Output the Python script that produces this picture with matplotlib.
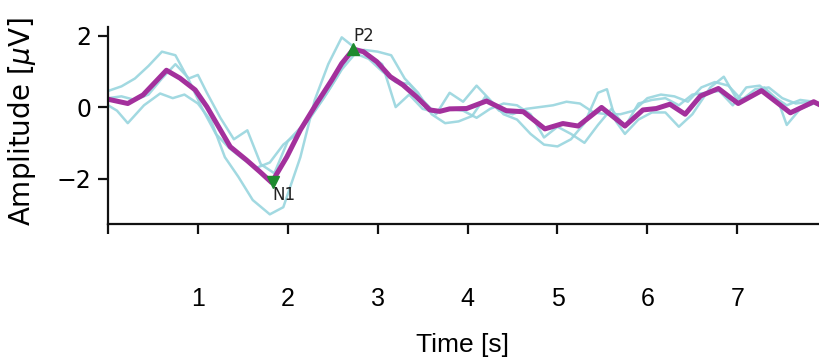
import matplotlib
matplotlib.use("Agg")
import matplotlib.pyplot as plt
from matplotlib import font_manager

# ---- data ----
mean_t = [0.00, 0.22, 0.39, 0.65, 0.80, 0.97, 1.10, 1.23, 1.36, 1.54, 1.69, 1.82,
          1.99, 2.14, 2.32, 2.49, 2.60, 2.73, 2.84, 2.99, 3.14, 3.28, 3.43, 3.58,
          3.69, 3.80, 3.99, 4.21, 4.43, 4.62, 4.86, 5.06, 5.23, 5.49, 5.75, 5.95,
          6.10, 6.25, 6.42, 6.59, 6.79, 7.01, 7.27, 7.59, 7.85, 7.92]
mean_v = [0.22, 0.10, 0.34, 1.03, 0.81, 0.48, 0.01, -0.55, -1.11, -1.48, -1.81, -2.11,
          -1.39, -0.64, 0.10, 0.76, 1.22, 1.62, 1.55, 1.27, 0.85, 0.62, 0.29, -0.08,
          -0.12, -0.05, -0.04, 0.17, -0.10, -0.13, -0.61, -0.46, -0.53, -0.01, -0.53, -0.08,
          -0.04, 0.08, -0.20, 0.31, 0.52, 0.10, 0.46, -0.16, 0.15, 0.06]

trA_t = [0.00, 0.15, 0.30, 0.45, 0.60, 0.75, 0.90, 1.05, 1.20, 1.35, 1.50, 1.65, 1.80,
         1.95, 2.10, 2.25, 2.40, 2.55, 2.70, 2.85, 3.00, 3.15, 3.30, 3.45, 3.60, 3.75,
         3.90, 4.05, 4.20, 4.35, 4.50, 4.65, 4.80, 4.95, 5.10, 5.25, 5.40, 5.55, 5.70,
         5.85, 6.00, 6.15, 6.30, 6.45, 6.60, 6.75, 6.90, 7.05, 7.20, 7.35, 7.50, 7.65,
         7.80, 7.92]
trA_v = [0.45, 0.58, 0.80, 1.15, 1.55, 1.45, 0.75, -0.05, -0.75, -1.15, -1.45, -1.70, -1.55,
         -1.05, -0.75, -0.30, 0.25, 0.85, 1.55, 1.60, 1.55, 1.45, 0.80, 0.40, -0.20, -0.45,
         -0.40, -0.25, 0.30, -0.10, -0.20, -0.05, 0.00, 0.05, 0.15, 0.10, -0.15, -0.20, -0.20,
         -0.10, 0.25, 0.35, 0.30, 0.15, 0.55, 0.70, 0.60, 0.20, 0.50, 0.55, 0.25, 0.10,
         0.15, 0.10]

trB_t = [0.00, 0.15, 0.30, 0.45, 0.60, 0.75, 0.90, 1.00, 1.10, 1.25, 1.40, 1.55, 1.70,
         1.85, 2.00, 2.15, 2.30, 2.45, 2.60, 2.75, 2.90, 3.05, 3.20, 3.35, 3.50, 3.65,
         3.80, 3.95, 4.10, 4.25, 4.40, 4.55, 4.70, 4.85, 5.00, 5.15, 5.30, 5.45, 5.55,
         5.65, 5.75, 5.90, 6.05, 6.20, 6.35, 6.50, 6.70, 6.85, 7.00, 7.15, 7.30, 7.45,
         7.55, 7.70, 7.85, 7.92]
trB_v = [0.25, 0.30, 0.20, 0.35, 0.80, 1.20, 0.80, 0.90, 0.40, -0.30, -0.90, -0.65, -1.60,
         -1.85, -0.95, -0.55, -0.10, 0.45, 1.05, 1.50, 1.35, 1.00, 0.70, 0.65, 0.20, -0.20,
         0.40, 0.15, 0.60, 0.20, -0.20, -0.35, -0.75, -1.05, -1.10, -0.90, -0.45, 0.40, 0.50,
         -0.40, -0.75, -0.35, -0.15, -0.15, -0.55, -0.20, 0.55, 0.85, 0.20, 0.30, 0.55, 0.20,
         -0.50, -0.05, 0.10, 0.05]

trC_t = [0.00, 0.10, 0.22, 0.40, 0.58, 0.72, 0.85, 1.00, 1.15, 1.30, 1.45, 1.61, 1.80,
         1.95, 2.14, 2.30, 2.45, 2.60, 2.75, 2.90, 3.05, 3.20, 3.35, 3.50, 3.65, 3.80,
         3.95, 4.10, 4.25, 4.40, 4.55, 4.70, 4.85, 5.00, 5.15, 5.30, 5.45, 5.60, 5.75,
         5.90, 6.05, 6.20, 6.35, 6.50, 6.65, 6.80, 6.95, 7.10, 7.25, 7.40, 7.55, 7.70,
         7.85, 7.92]
trC_v = [0.05, -0.10, -0.45, 0.05, 0.38, 0.25, 0.35, 0.10, -0.40, -1.40, -1.95, -2.60, -3.00,
         -2.80, -1.40, 0.20, 1.20, 1.95, 1.65, 1.45, 1.20, 0.00, 0.35, -0.05, -0.15, -0.05,
         -0.10, -0.30, -0.05, 0.10, 0.05, -0.20, -0.85, -0.55, -0.75, -1.00, -0.50, -0.05, -0.55,
         0.10, 0.20, 0.25, 0.05, 0.35, 0.40, 0.45, 0.05, 0.55, 0.60, 0.30, 0.05, 0.20,
         0.15, 0.10]

peak_names = ["N1", "P2"]
peak_t = [1.83, 2.73]
peak_v = [-2.10, 1.62]

x_ticks = [0, 1, 2, 3, 4, 5, 6, 7]
x_tick_labels = ["", "1", "2", "3", "4", "5", "6", "7"]
y_ticks = [-2, 0, 2]
y_tick_labels = ["\u22122", "0", "2"]

# ---- fonts ----
avail = {f.name for f in font_manager.fontManager.ttflist}
narrow = "Liberation Sans Narrow" if "Liberation Sans Narrow" in avail else "Liberation Sans"

fig = plt.figure(figsize=(8.2, 3.63), dpi=100)
ax = fig.add_axes([108 / 820, (363 - 224) / 363, 712 / 820, 197 / 363])

cyan = "#98d5de"
for tt, vv in [(trA_t, trA_v), (trB_t, trB_v), (trC_t, trC_v)]:
    ax.plot(tt, vv, color=cyan, lw=1.8, alpha=0.9, solid_joinstyle="round",
            solid_capstyle="round")
ax.plot(mean_t, mean_v, color="#a3309c", lw=3.6, solid_joinstyle="round",
        solid_capstyle="round")

ax.plot(peak_t[0], peak_v[0], marker="v", color="#1e8a2e", ms=8, ls="none")
ax.plot(peak_t[1], peak_v[1], marker="^", color="#1e8a2e", ms=8, ls="none")
ax.text(peak_t[0] + 0.0, peak_v[0] - 0.12, peak_names[0], fontsize=12,
        ha="left", va="top", color="#222222")
ax.text(peak_t[1] + 0.0, peak_v[1] + 0.12, peak_names[1], fontsize=12,
        ha="left", va="bottom", color="#222222")

ax.set_xlim(0, 7.92)
ax.set_ylim(-3.27, 2.24)
ax.set_xticks(x_ticks)
ax.set_xticklabels(x_tick_labels, fontsize=18, family=narrow)
ax.set_yticks(y_ticks)
ax.set_yticklabels(y_tick_labels, fontsize=17, family="DejaVu Sans")
ax.tick_params(axis="x", length=7, width=1.6, pad=38, color="#111111")
ax.tick_params(axis="y", length=7, width=1.6, pad=5, color="#111111")
for s in ["top", "right"]:
    ax.spines[s].set_visible(False)
for s in ["left", "bottom"]:
    ax.spines[s].set_linewidth(1.6)
    ax.spines[s].set_color("#111111")

ax.set_xlabel("Time [s]", fontsize=19, family=narrow)
ax.xaxis.set_label_coords((463 - 108) / 712, (18 - 139) / 197)
ax.xaxis.label.set_va("center")
ax.set_ylabel("Amplitude [$\\mu$V]", fontsize=20, family="DejaVu Sans")
ax.yaxis.set_label_coords((22 - 108) / 712, (363 - 122 - 139) / 197)
ax.yaxis.label.set_va("center")

fig.savefig("out.png", dpi=100)
